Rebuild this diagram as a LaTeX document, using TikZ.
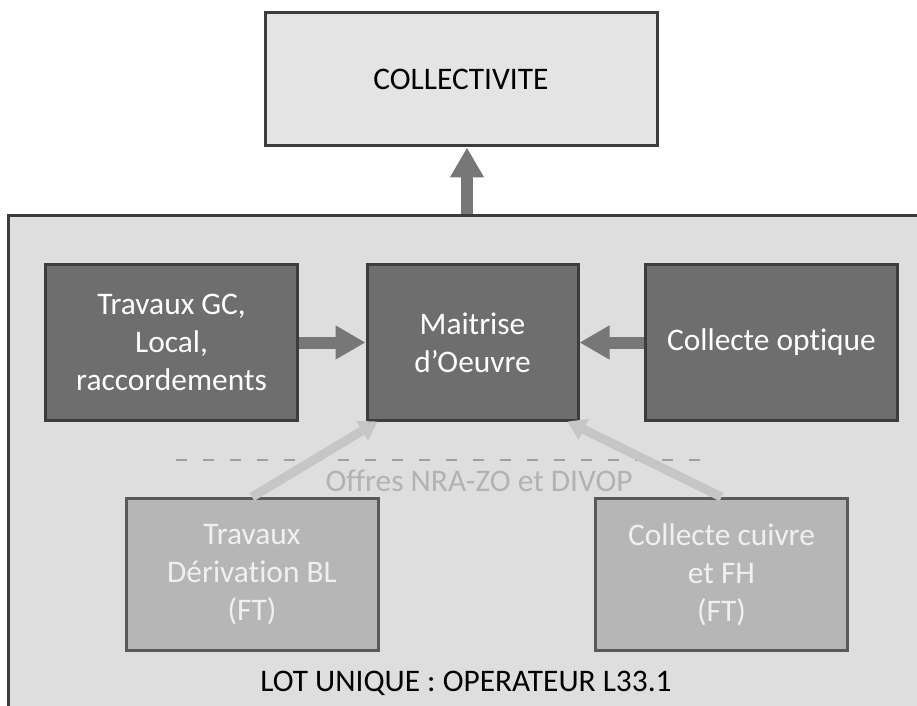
\documentclass[tikz,border=0pt]{standalone}
\usepackage{fontspec}
\setmainfont{Carlito}[Ligatures=NoCommon]
\usetikzlibrary{arrows.meta, positioning, calc}

\definecolor{boxline}{HTML}{3C3C3C}
\definecolor{darkfill}{HTML}{6E6E6E}
\definecolor{lightfill}{HTML}{B6B6B6}
\definecolor{topfill}{HTML}{E4E4E4}
\definecolor{framefill}{HTML}{DEDEDE}
\definecolor{fatgray}{HTML}{777777}
\definecolor{palegray}{HTML}{C6C6C6}

\begin{document}
\begin{tikzpicture}[x=0.5pt, y=-0.5pt, node distance=150pt, on grid,
    font=\fontsize{15.7}{19}\selectfont,
    box/.style={rectangle, draw=boxline, line width=1.5pt, align=center, inner sep=0pt},
    darkbox/.style={box, fill=darkfill, text=white, minimum width=126pt, minimum height=77.5pt},
    lightbox/.style={box, fill=lightfill, draw=boxline!85, text=white!94!black, minimum width=126pt, minimum height=76pt},
    fatarrow/.style={draw=fatgray, line width=6pt, -{Triangle[width=16pt, length=15pt]}},
    palearrow/.style={draw=palegray, line width=4.5pt, -{Triangle[width=11pt, length=9pt]}},
    offdash/.style={draw=gray!75, line width=0.8pt, dash pattern=on 5.5pt off 8pt}]
    \useasboundingbox (0,0) rectangle (917,706);
    \clip (0,0) rectangle (917,706);
    \fill[white] (0,0) rectangle (917,706);

    % cadre du lot
    \node[box, fill=framefill, anchor=north west, minimum width=520pt, minimum height=300pt] (lot) at (7,214) {};
    \node (lotname) at (466,683) {LOT UNIQUE : OPERATEUR L33.1};

    \node[box, fill=topfill, minimum width=196pt, minimum height=66.5pt] (coll) at (461,79.5) {COLLECTIVITE};

    % ligne du haut
    \node[darkbox, minimum width=105.5pt] (moe) at (472.5,342.5) {Maitrise\\d’Oeuvre};
    \node[darkbox] (gc) [left=150.5pt of moe] {Travaux GC,\\Local,\\raccordements};
    \node[darkbox] (optique) [right=149.5pt of moe] {Collecte optique};

    % offres FT
    \coordinate (offleft) at (176,460);
    \coordinate (offright) at (710,460);
    \draw[offdash] (offleft) -- (offright);
    \node[text=palegray!90!black] (offres) at (479,481) {Offres NRA-ZO et DIVOP};

    \node[lightbox] (deriv) at (252,574.5) {Travaux\\Dérivation BL\\(FT)};
    \node[lightbox] (cuivre) at (721.5,574.5) {Collecte cuivre\\et FH\\(FT)};

    \draw[fatarrow] (gc) -- (moe);
    \draw[fatarrow] (optique) -- (moe);
    \draw[fatarrow] ([xshift=3pt]coll.south |- lot.north) -- ([xshift=3pt]coll.south);
    \draw[palearrow] (deriv.north) -- ([xshift=6pt]moe.south west);
    \draw[palearrow] (cuivre.north) -- ([xshift=-6pt]moe.south east);
\end{tikzpicture}
\end{document}
